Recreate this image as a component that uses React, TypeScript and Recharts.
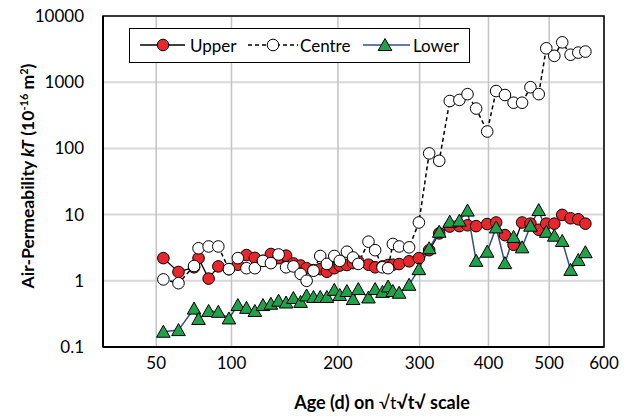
import React from 'react';
import {
  LineChart,
  Line,
  XAxis,
  YAxis,
  CartesianGrid,
  Legend,
  ReferenceArea,
} from 'recharts';

// Age in days (x axis is drawn on a square-root scale)
const AGES = [
  54, 63, 73, 76, 83, 90, 98, 105, 112, 119, 126, 133, 140, 147, 154, 161, 167,
  174, 181, 188, 196, 202, 210, 217, 223, 235, 243, 252, 259, 265, 273, 286, 299,
  313, 327, 342, 356, 368, 381, 398, 412, 426, 440, 454, 468, 482, 495, 509, 523,
  538, 552, 565,
];

// kT (10^-16 m2)
const UPPER = [
  2.2, 1.36, 1.6, 2.2, 1.08, 1.65, 1.5, 1.75, 2.45, 2.22, 2.0, 2.54, 2.2, 2.4,
  1.83, 1.7, 1.55, 1.45, 1.5, 1.37, 1.55, 1.7, 1.73, 1.85, 1.95, 1.75, 1.6, 1.65,
  1.73, 1.75, 1.79, 1.97, 2.2, 2.9, 5.2, 6.6, 6.7, 6.9, 6.7, 7.2, 7.6, 4.9, 3.5,
  7.6, 7.3, 5.9, 7.3, 7.3, 9.9, 8.8, 8.5, 7.3,
];

const CENTRE = [
  1.05, 0.92, 1.67, 3.1, 3.3, 3.3, 1.5, 2.2, 1.55, 1.55, 2.0, 1.85, 2.5, 1.6,
  1.65, 1.27, 1.0, 1.42, 2.37, 1.8, 2.37, 2.0, 2.75, 2.25, 1.8, 3.9, 2.9, 1.6,
  1.55, 3.6, 3.3, 3.2, 7.6, 84, 65, 520, 540, 660, 400, 180, 735, 640, 490, 490,
  840, 660, 3250, 2500, 4000, 2600, 2800, 2900,
];

const LOWER = [
  0.17, 0.18, 0.38, 0.265, 0.35, 0.34, 0.27, 0.43, 0.39, 0.35, 0.43, 0.45, 0.5,
  0.47, 0.55, 0.48, 0.6, 0.57, 0.57, 0.57, 0.73, 0.61, 0.7, 0.53, 0.75, 0.56,
  0.75, 0.68, 0.82, 0.7, 0.66, 0.87, 1.5, 3.1, 5.5, 7.8, 8.1, 11.5, 2.0, 2.75,
  6.4, 1.85, 4.6, 3.2, 6.8, 11.7, 5.5, 4.8, 4.0, 1.46, 2.06, 2.7,
];

const X_TICKS = [50, 100, 200, 300, 400, 500, 600];
const Y_TICKS = [0.1, 1, 10, 100, 1000, 10000];

const FONT = 'Lato, "Open Sans", sans-serif';
const RED = '#e8262b';
const GREEN = '#1fa24a';
const BLUE = '#2f4f8f';

const X_MIN = 5; // sqrt(25)
const X_MAX = Math.sqrt(600);

// minor log ticks 2..9 per decade
const MINOR_TICKS = Y_TICKS.slice(0, -1).flatMap((d) =>
  [2, 3, 4, 5, 6, 7, 8, 9].map((m) => +(d * m).toPrecision(3))
);

const data = AGES.map((t, i) => ({
  s: Math.sqrt(t),
  upper: UPPER[i],
  centre: CENTRE[i],
  lower: LOWER[i],
}));

const RedDot = (props: any) => {
  const { cx, cy, index } = props;
  if (cx == null || cy == null) return null;
  return <circle key={`u-${index}`} cx={cx} cy={cy} r={5.8} fill={RED} stroke="#000" strokeWidth={1} />;
};

const WhiteDot = (props: any) => {
  const { cx, cy, index } = props;
  if (cx == null || cy == null) return null;
  return <circle key={`c-${index}`} cx={cx} cy={cy} r={5.8} fill="#fff" stroke="#000" strokeWidth={1} />;
};

const triPath = (cx: number, cy: number) =>
  `M${cx},${cy - 6.5} L${cx + 6.8},${cy + 5.5} L${cx - 6.8},${cy + 5.5} Z`;

const TriDot = (props: any) => {
  const { cx, cy, index } = props;
  if (cx == null || cy == null) return null;
  return <path key={`l-${index}`} d={triPath(cx, cy)} fill={GREEN} stroke="#000" strokeWidth={1} />;
};

const LegendBox = () => (
  <svg width={341} height={35} style={{ display: 'block' }}>
    <rect x={0.5} y={0.5} width={340} height={34} fill="#fff" stroke="#000" strokeWidth={1} />
    <g fontFamily={FONT} fontSize={17} fill="#000">
      {/* Upper */}
      <line x1={11} y1={17} x2={56} y2={17} stroke="#000" strokeWidth={1.4} />
      <circle cx={34} cy={17} r={5.8} fill={RED} stroke="#000" />
      <text x={61} y={23.5}>Upper</text>
      {/* Centre */}
      <line x1={119} y1={17} x2={169} y2={17} stroke="#000" strokeWidth={1.5} strokeDasharray="4 3" />
      <circle cx={144} cy={17} r={5.8} fill="#fff" stroke="#000" />
      <text x={171} y={23.5}>Centre</text>
      {/* Lower */}
      <line x1={234} y1={17} x2={281} y2={17} stroke={BLUE} strokeWidth={1.5} />
      <path d={triPath(256, 17)} fill={GREEN} stroke="#000" />
      <text x={284} y={23.5}>Lower</text>
    </g>
  </svg>
);

const YTitle = () => (
  <text
    x={34}
    y={176}
    transform="rotate(-90, 34, 176)"
    textAnchor="middle"
    fontFamily={FONT}
    fontSize={17.5}
    fontWeight="bold"
    fill="#000"
  >
    Air-Permeability <tspan fontStyle="italic">kT</tspan> (10
    <tspan dy={-6} fontSize={11}>-16</tspan>
    <tspan dy={6}> m</tspan>
    <tspan dy={-6} fontSize={11}>2</tspan>
    <tspan dy={6}>)</tspan>
  </text>
);

const XTitle = () => (
  <text x={382} y={409} textAnchor="middle" fontFamily={FONT} fontSize={18} fontWeight="bold" fill="#000">
    Age (d) on <tspan fontWeight="normal">√t</tspan>√t√ scale
  </text>
);

export default function App() {
  return (
    <div style={{ position: 'absolute', left: 0, top: 0, width: 633, height: 417, background: '#fff' }}>
      <LineChart
        width={633}
        height={417}
        data={data}
        margin={{ top: 16, right: 29, bottom: 0, left: 0 }}
      >
        <CartesianGrid horizontal={true} vertical={false} stroke="#d9d9d9" strokeWidth={2} />
        <CartesianGrid horizontal={false} vertical={true} stroke="#c4c4c4" strokeWidth={1.5} />

        <XAxis
          dataKey="s"
          type="number"
          domain={[X_MIN, X_MAX]}
          ticks={X_TICKS.map((t) => Math.sqrt(t))}
          tickFormatter={(v: number) => String(Math.round(v * v))}
          allowDataOverflow
          height={70}
          tickLine={false}
          tickSize={0}
          tickMargin={10}
          axisLine={{ stroke: '#000', strokeWidth: 2 }}
          tick={{ fill: '#000', fontSize: 17, fontFamily: FONT }}
          label={<XTitle />}
        />
        <YAxis
          scale="log"
          domain={[0.1, 10000]}
          ticks={Y_TICKS}
          allowDataOverflow
          width={103}
          tickLine={false}
          tickSize={0}
          tickMargin={19}
          axisLine={{ stroke: '#000', strokeWidth: 2 }}
          tick={{ fill: '#000', fontSize: 17, fontFamily: FONT }}
          tickFormatter={(v: number) => String(v)}
          label={<YTitle />}
        />
        <YAxis
          yAxisId="minor"
          scale="log"
          domain={[0.1, 10000]}
          ticks={MINOR_TICKS}
          allowDataOverflow
          orientation="left"
          mirror
          width={0}
          tick={false}
          tickSize={6}
          tickLine={{ stroke: '#000', strokeWidth: 1 }}
          axisLine={false}
        />

        <ReferenceArea
          x1={X_MIN}
          x2={X_MAX}
          y1={0.1}
          y2={10000}
          fill="none"
          stroke="#000"
          strokeWidth={1.5}
          ifOverflow="visible"
        />

        <Line
          dataKey="upper"
          stroke="#000"
          strokeWidth={1.3}
          dot={RedDot}
          activeDot={false}
          isAnimationActive={false}
        />
        <Line
          dataKey="centre"
          stroke="#000"
          strokeWidth={1.5}
          strokeDasharray="4 3"
          dot={WhiteDot}
          activeDot={false}
          isAnimationActive={false}
        />
        <Line
          dataKey="lower"
          stroke={BLUE}
          strokeWidth={1.5}
          dot={TriDot}
          activeDot={false}
          isAnimationActive={false}
        />

        <Legend
          layout="vertical"
          align="center"
          verticalAlign="middle"
          content={() => <LegendBox />}
          wrapperStyle={{ position: 'absolute', left: 129, top: 28, width: 341, height: 35 }}
        />
      </LineChart>
    </div>
  );
}
